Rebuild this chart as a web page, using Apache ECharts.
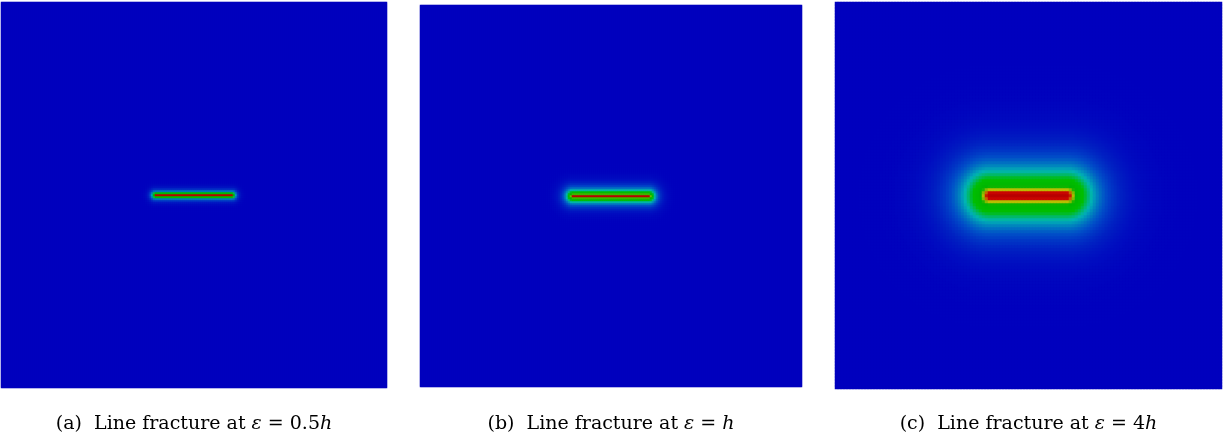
<!DOCTYPE html>
<html>
<head>
<meta charset="utf-8">
<title>Line fracture phase field</title>
<script src="https://cdn.jsdelivr.net/npm/echarts@6/dist/echarts.min.js"></script>
<style>
  html, body { margin: 0; padding: 0; background: #ffffff; }
  #chart { width: 1225px; height: 444px; }
</style>
</head>
<body>
<div id="chart"></div>
<script>
// Phase-field damage d = exp(-dist / eps) around a straight crack in the unit square.
const panelTags = ['(a)', '(b)', '(c)'];
const epsilonLabels = ['0.5', '', '4'];          // caption text in front of h
const epsilonOverH = [0.5, 1, 4];                 // regularisation length in units of h
const meshSize = 1 / 86;                          // h
const crackX = [0.4, 0.6];                        // crack end points (x), unit square
const crackY = 0.5;                               // crack line (y)
const cellsPerSide = [193, 191, 129];             // field sampling per panel (odd: a cell sits on the crack)

// colour map stops: damage value -> colour (blue, cyan, green, yellow, red)
const rampStops = [0, 0.12, 0.25, 0.4, 0.6, 0.72, 0.85, 1];
const rampStopColors = ['#0000be', '#0050c8', '#00b4b4', '#00be00', '#00b400', '#bebe00', '#c80000', '#b80000'];

// panel boxes in pixels [left, top, width, height]
const panelBoxes = [
  [1, 2, 386, 386],
  [420, 5, 382, 382],
  [835, 2, 387, 387]
];

// resample the stop list to an evenly spaced colour list for the visualMap
function evenRamp(count) {
  const hex = c => [1, 3, 5].map(p => parseInt(c.substr(p, 2), 16));
  const out = [];
  for (let k = 0; k < count; k++) {
    const v = k / (count - 1);
    let s = 0;
    while (s < rampStops.length - 2 && v > rampStops[s + 1]) s++;
    const t = (v - rampStops[s]) / (rampStops[s + 1] - rampStops[s]);
    const a = hex(rampStopColors[s]), b = hex(rampStopColors[s + 1]);
    const c = a.map((x, q) => Math.round(x + (b[q] - x) * t));
    out.push('rgb(' + c.join(',') + ')');
  }
  return out;
}

function distToCrack(x, y) {
  const cx = Math.min(Math.max(x, crackX[0]), crackX[1]);
  const dx = x - cx, dy = y - crackY;
  return Math.sqrt(dx * dx + dy * dy);
}

function buildField(eps, n) {
  const out = [];
  for (let i = 0; i < n; i++) {
    const x = (i + 0.5) / n;
    for (let j = 0; j < n; j++) {
      const y = (j + 0.5) / n;
      out.push([i, j, Math.exp(-distToCrack(x, y) / eps)]);
    }
  }
  return out;
}

const grids = [], xAxes = [], yAxes = [], series = [], graphics = [];
panelBoxes.forEach((b, k) => {
  const n = cellsPerSide[k];
  const cats = Array.from({ length: n }, (_, m) => String(m));
  grids.push({ left: b[0], top: b[1], width: b[2], height: b[3], containLabel: false });
  xAxes.push({ type: 'category', gridIndex: k, data: cats, show: false, boundaryGap: true });
  yAxes.push({ type: 'category', gridIndex: k, data: cats, show: false, boundaryGap: true });
  series.push({
    type: 'heatmap',
    xAxisIndex: k,
    yAxisIndex: k,
    data: buildField(epsilonOverH[k] * meshSize, n),
    progressive: 0,
    silent: true,
    emphasis: { disabled: true },
    itemStyle: { borderWidth: 0 }
  });
  const cx = b[0] + b[2] / 2;
  graphics.push({
    type: 'text',
    x: cx,
    y: 424,
    style: {
      text: '{n|' + panelTags[k] + '  Line fracture at }{i|ε}{n| = ' + epsilonLabels[k] + '}{i|h}',
      align: 'center',
      verticalAlign: 'middle',
      rich: {
        n: { fontFamily: 'DejaVu Serif', fontSize: 19, fill: '#000000', fontStyle: 'normal' },
        i: { fontFamily: 'DejaVu Serif', fontSize: 19, fill: '#000000', fontStyle: 'italic' }
      }
    }
  });
});

const chart = echarts.init(document.getElementById('chart'), null, { renderer: 'canvas' });
chart.setOption({
  animation: false,
  backgroundColor: '#ffffff',
  grid: grids,
  xAxis: xAxes,
  yAxis: yAxes,
  visualMap: {
    type: 'continuous',
    show: false,
    min: 0,
    max: 1,
    seriesIndex: [0, 1, 2],
    inRange: { color: evenRamp(101) }
  },
  series: series,
  graphic: graphics
});
</script>
</body>
</html>
